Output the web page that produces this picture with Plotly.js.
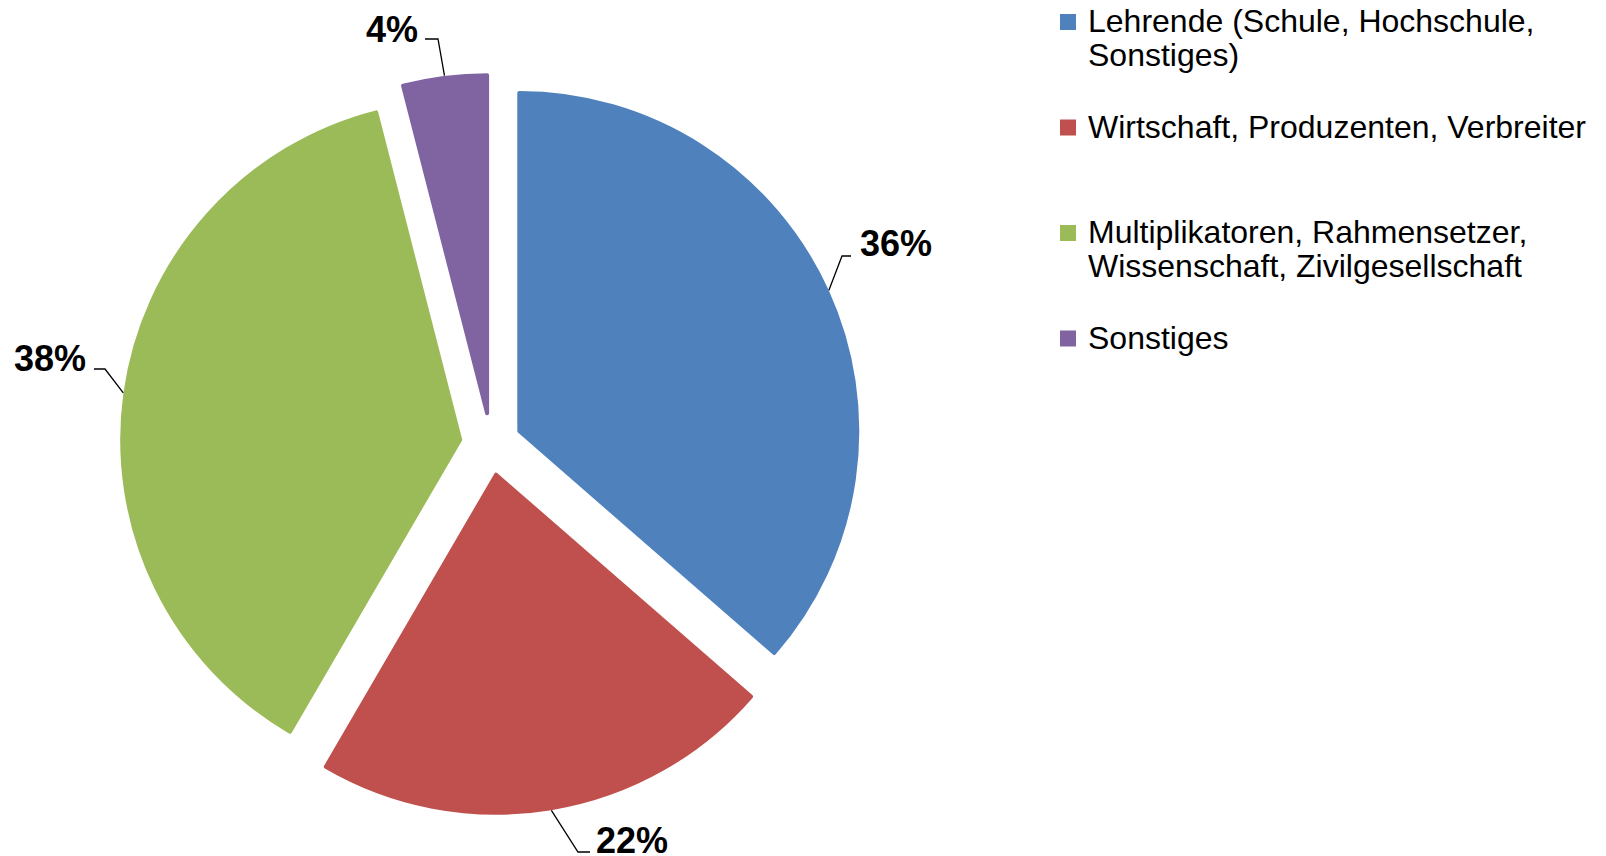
<!DOCTYPE html>
<html><head><meta charset="utf-8">
<script src="https://cdn.plot.ly/plotly-3.0.1.min.js"></script>
<style>html,body{margin:0;padding:0;background:#fff;}#chart{width:1606px;height:856px;}</style>
</head><body><div id="chart"></div>
<script>
// ---- data ----
const categories = [
  "Lehrende (Schule, Hochschule,<br>Sonstiges)",
  "Wirtschaft, Produzenten, Verbreiter",
  "Multiplikatoren, Rahmensetzer,<br>Wissenschaft, Zivilgesellschaft",
  "Sonstiges"
];
const values = [36.4, 22.0, 37.6, 4.0];
const colors = ["#4F81BD", "#C0504D", "#9BBB59", "#8064A2"];

// ---- layout geometry (px) ----
const W = 1606, H = 856;
const cx = 491, cy = 444, R = 338, pull = 0.092;
const half = R * (1 + pull);
const domX = [(cx - half) / W, (cx + half) / W];
const domY = [1 - (cy + half) / H, 1 - (cy - half) / H];

// label placement (style): elbow, end of leader, text anchor
const labelStyle = [
  {elbow: [842, 256], end: [851, 256], tx: 858, ty: 243, anchor: 'left'},
  {elbow: [578, 852], end: [590, 852], tx: 594, ty: 840, anchor: 'left'},
  {elbow: [105, 369], end: [94, 369], tx: 88, ty: 358, anchor: 'right'},
  {elbow: [438, 39], end: [425, 39], tx: 420, ty: 29, anchor: 'right'}
];

const total = values.reduce((a, b) => a + b, 0);
const px = x => x / W, py = y => 1 - y / H;
const edgeR = (R + 2) * (1 + pull);

let cum = 0;
const shapes = [], annotations = [];
values.forEach((v, i) => {
  const th = 2 * Math.PI * (cum + v / 2) / total;
  cum += v;
  const ex = cx + edgeR * Math.sin(th), ey = cy - edgeR * Math.cos(th);
  const s = labelStyle[i];
  shapes.push({
    type: 'path', xref: 'paper', yref: 'paper',
    path: `M${px(ex)},${py(ey)} L${px(s.elbow[0])},${py(s.elbow[1])} L${px(s.end[0])},${py(s.end[1])}`,
    line: {color: '#000', width: 1.3}
  });
  annotations.push({
    xref: 'paper', yref: 'paper', x: px(s.tx), y: py(s.ty),
    xanchor: s.anchor, yanchor: 'middle', showarrow: false,
    text: Math.round(v / total * 100) + '%',
    font: {family: 'Arial, Liberation Sans, sans-serif', size: 36, color: '#000', weight: 'bold'}
  });
});

// legend labels: big text, padded to equal entry heights
const legendLabels = categories.map((c, i) => {
  const lines = c.split('<br>').map(l => `<span style="font-size:32px">${l}</span>`);
  if (i < categories.length - 1) while (lines.length < 3) lines.push(' ');
  return lines.join('<br>');
});

const trace = {
  type: 'pie', labels: legendLabels, values: values,
  sort: false, direction: 'clockwise', rotation: 0,
  pull: values.map(() => pull),
  marker: {colors: colors, line: {width: 4, color: colors}},
  textinfo: 'none', hoverinfo: 'none',
  domain: {x: domX, y: domY}
};

const layout = {
  width: W, height: H,
  margin: {l: 0, r: 0, t: 0, b: 0, autoexpand: false},
  paper_bgcolor: '#fff', plot_bgcolor: '#fff',
  showlegend: true,
  legend: {
    x: (1088 - 40) / W, xanchor: 'left', y: 1.002, yanchor: 'top',
    valign: 'top', traceorder: 'normal',
    font: {family: 'Arial, Liberation Sans, sans-serif', size: 26.3, color: '#000'},
    bgcolor: 'rgba(0,0,0,0)'
  },
  shapes: shapes, annotations: annotations
};

Plotly.newPlot('chart', [trace], layout, {displayModeBar: false, staticPlot: true});
</script>
</body></html>
